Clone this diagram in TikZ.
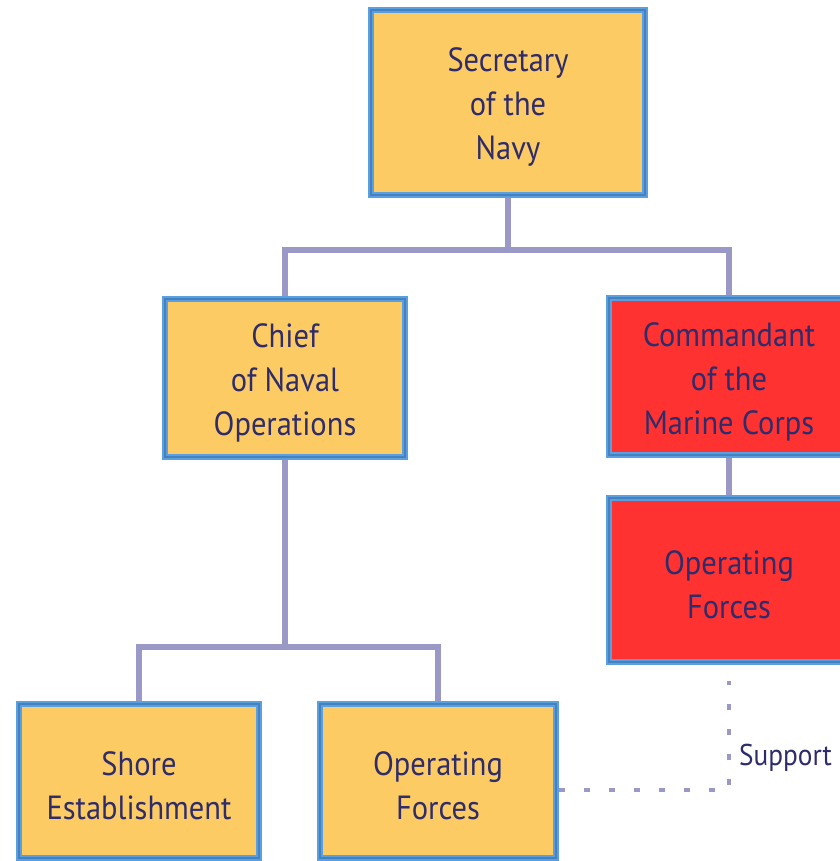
\documentclass[tikz,border=0pt]{standalone}
\usepackage{fontspec}
\setmainfont[FakeStretch=0.91]{PT Sans}
\definecolor{boxyel}{HTML}{FDCB63}
\definecolor{boxred}{HTML}{FF3232}
\definecolor{boxblue}{HTML}{5A9FE0}
\definecolor{ringdark}{HTML}{2A5E96}
\definecolor{linkcol}{HTML}{9A98C6}
\definecolor{txtcol}{HTML}{2E2C6A}
\newcommand{\btxt}[1]{\raisebox{-5pt}[\dimexpr\height+5pt\relax][\dimexpr\depth+5pt\relax]{\parbox{215pt}{\centering #1}}}
\begin{document}
\begin{tikzpicture}[x=1pt,y=-1pt,
  orgbox/.style={rectangle, draw=boxblue, line width=5.5pt,
    text=txtcol, font=\fontsize{33.5}{44}\selectfont, inner sep=0pt,
    postaction={draw=ringdark, draw opacity=0.45, line width=2pt}},
  yelbox/.style={orgbox, fill=boxyel},
  redbox/.style={orgbox, fill=boxred},
  link/.style={draw=linkcol, line width=6.5pt},
  suplink/.style={draw=linkcol, line width=4pt, dash pattern=on 6pt off 19pt}]
\useasboundingbox (0,0) rectangle (839,861);
\fill[white] (0,0) rectangle (839,861);
\node[yelbox, minimum width=274pt, minimum height=185pt] (sec) at (508,102.5) {\btxt{Secretary\\of the\\Navy}};
\node[yelbox, minimum width=240pt, minimum height=158pt] (chief) at (285,378) {\btxt{Chief\\of Naval\\Operations}};
\node[redbox, minimum width=240pt, minimum height=157pt] (cmd) at (729,376.5) {\btxt{Commandant\\of the\\Marine Corps}};
\node[redbox, minimum width=240pt, minimum height=164pt] (opr) at (729,580) {\btxt{Operating\\Forces}};
\node[yelbox, minimum width=240pt, minimum height=154pt] (shore) at (139,781) {\btxt{Shore\\Establishment}};
\node[yelbox, minimum width=236pt, minimum height=154pt] (opy) at (438,781) {\btxt{Operating\\Forces}};
\coordinate (j1) at (508,250);
\coordinate (j2) at (285,647);
\coordinate (d1) at (729,790);
\draw[link] (sec.south) -- (j1);
\draw[link] (chief.north) |- (j1) -| (cmd.north);
\draw[link] (chief.south) -- (j2);
\draw[link] (shore.north) |- (j2) -| (opy.north);
\draw[link] (cmd.south) -- (opr.north);
\draw[suplink] (opy.east |- d1) -- (d1) -- ([yshift=-16pt]opr.south);
\node[anchor=west, text=txtcol, font=\fontsize{30}{36}\selectfont, inner sep=0pt] (sup) at (739,758) {Support};
\end{tikzpicture}
\end{document}
